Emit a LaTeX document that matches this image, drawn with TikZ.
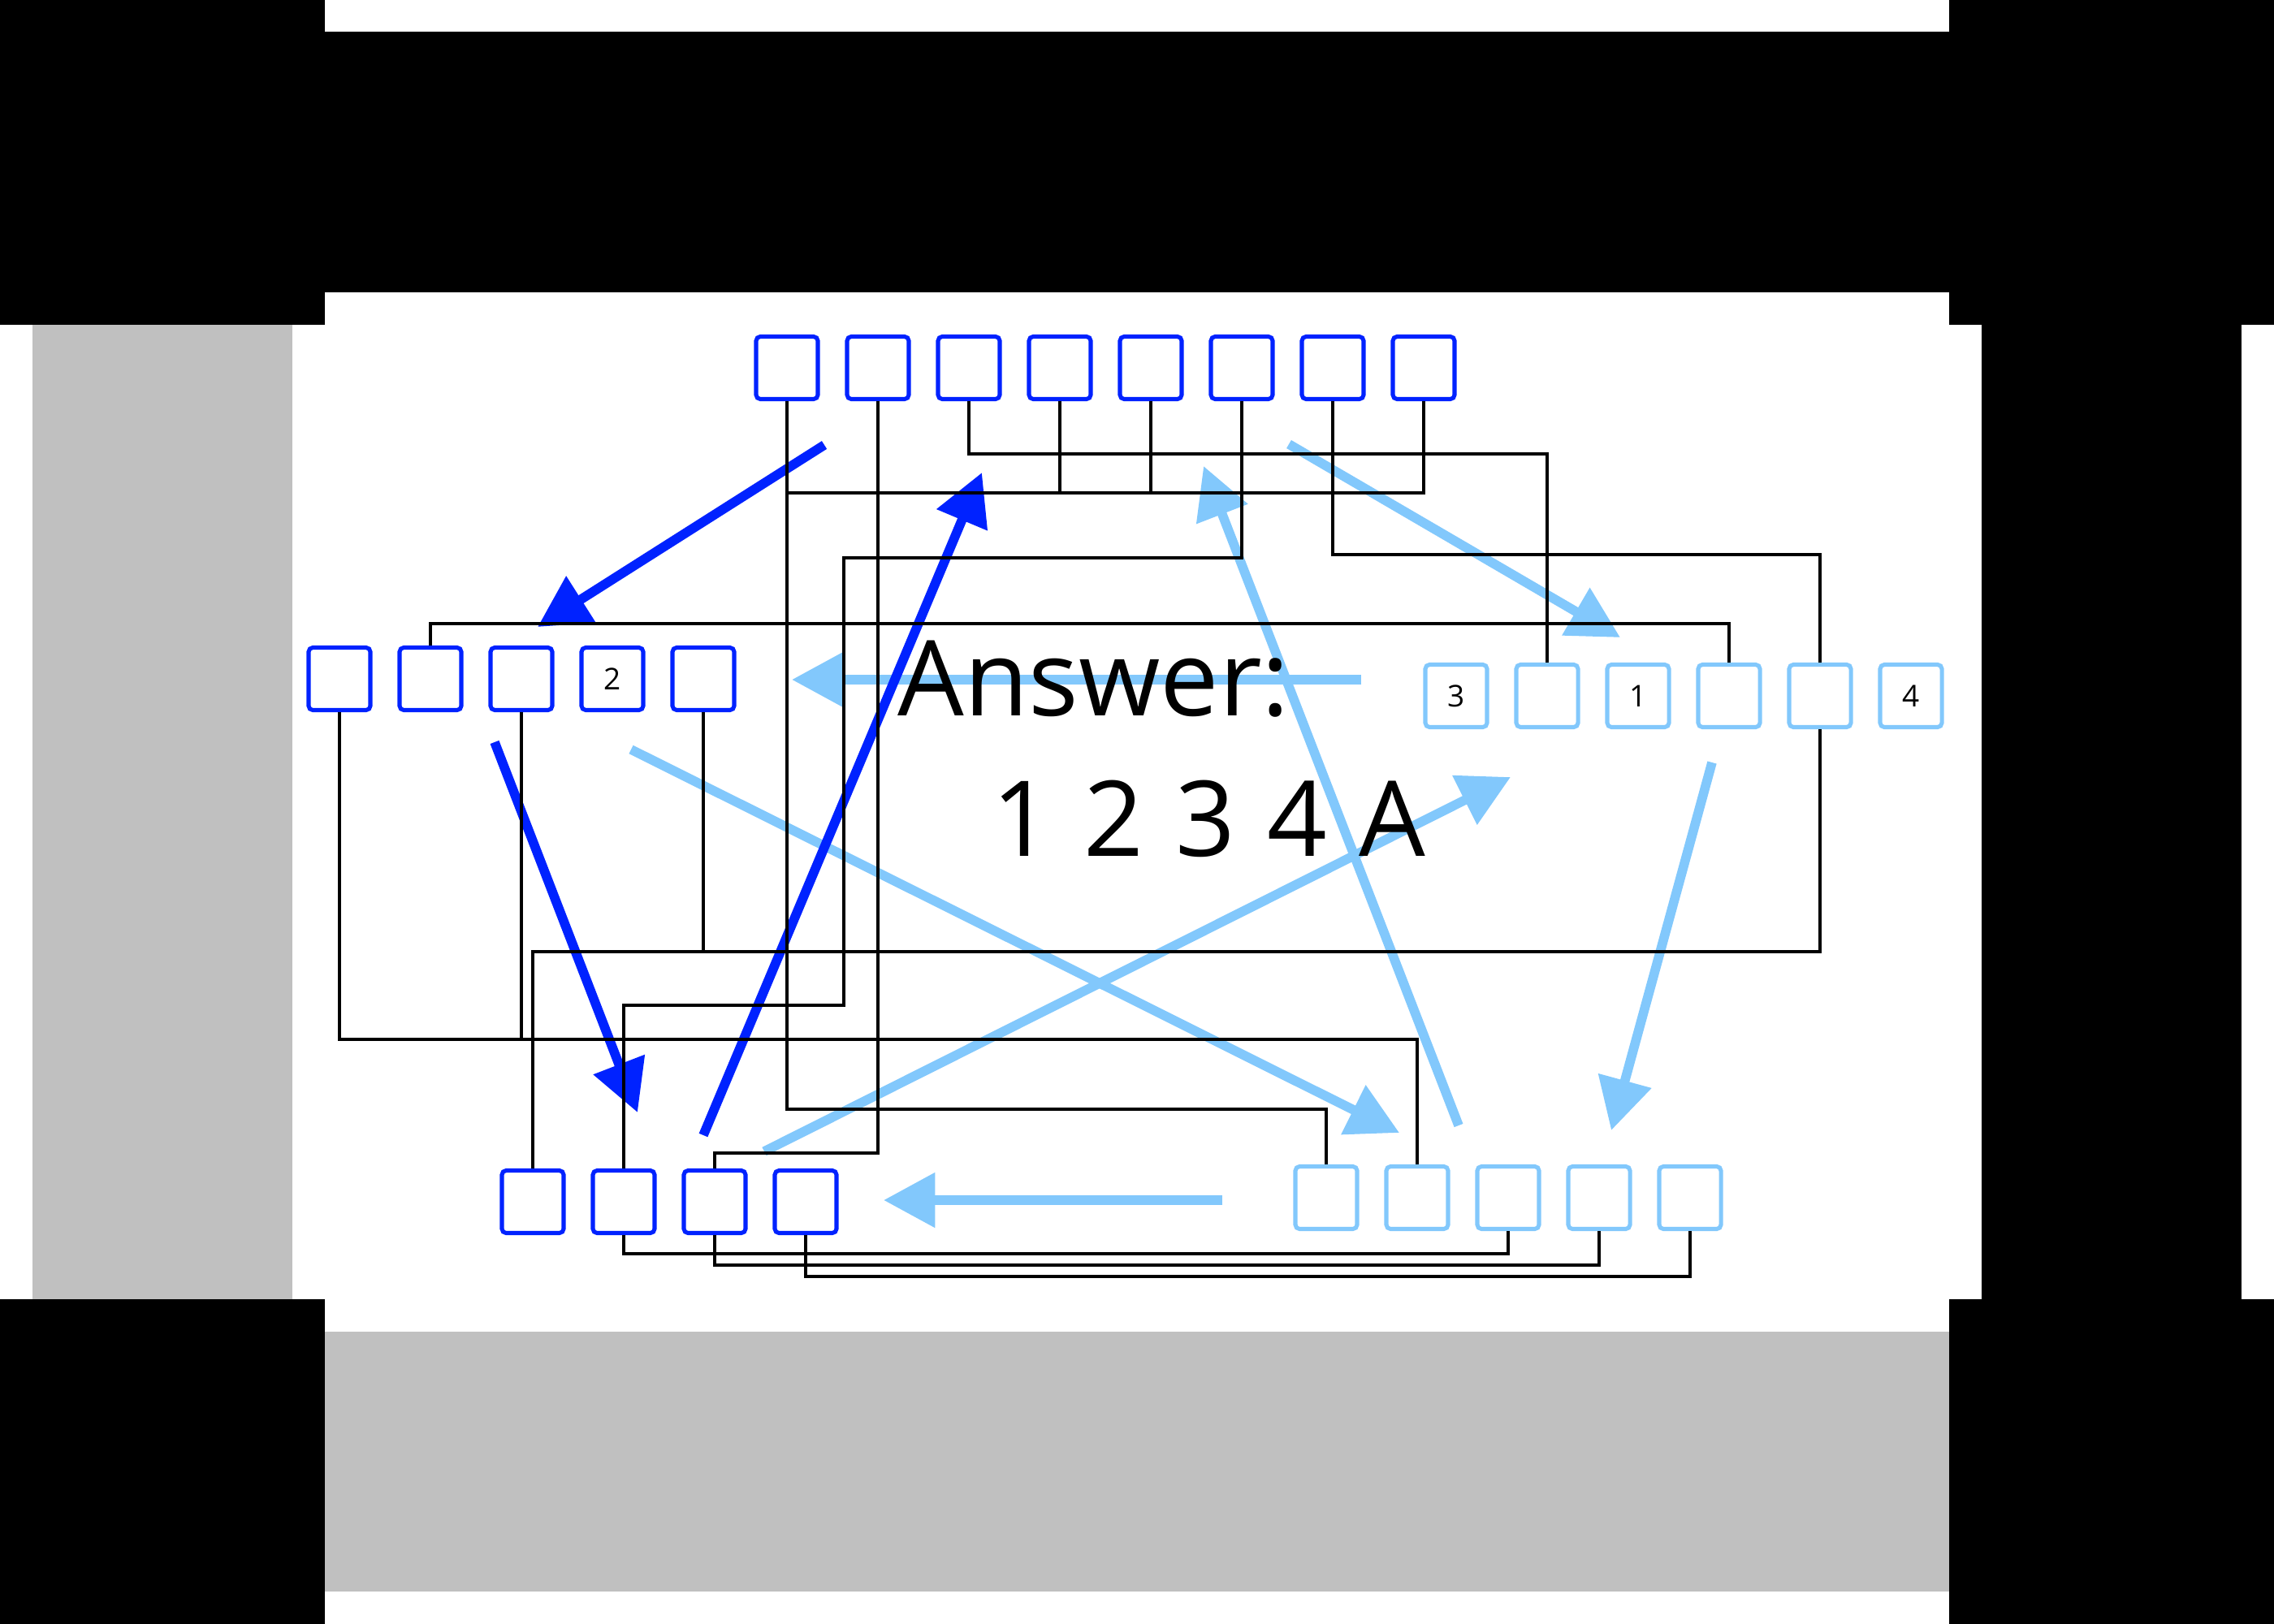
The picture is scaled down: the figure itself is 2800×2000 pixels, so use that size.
\documentclass[tikz,border=0pt]{standalone}
\usepackage{fontspec}
\setmainfont{Open Sans}
\newfontfamily\numfont[WordSpace=1.17]{Open Sans}
\usetikzlibrary{arrows.meta}
\definecolor{dblue}{RGB}{0,34,255}
\definecolor{lblue}{RGB}{130,200,252}
\definecolor{gbg}{RGB}{192,192,192}
\begin{document}
\begin{tikzpicture}[x=0.01cm,y=-0.01cm,
  box/.style={draw, rounded corners=1.5pt, line width=1.45pt, minimum width=0.76cm, minimum height=0.77cm, inner sep=0pt, font=\fontsize{10.5}{12}\selectfont},
  bb/.style={box, draw=dblue},
  lb/.style={box, draw=lblue},
  wire/.style={line width=1.14pt, draw=black},
  darr/.style={line width=3.3pt, draw=dblue, -{Triangle[length=18pt,width=18.5pt]}},
  larr/.style={line width=3.3pt, draw=lblue, -{Triangle[length=18pt,width=18.5pt]}},
  bigtext/.style={anchor=base west, inner sep=0pt, font=\fontsize{36.7}{40}\selectfont}
]
% background
\useasboundingbox (0,0) rectangle (2800,2000);
\fill[white] (0,0) rectangle (2800,2000);
\fill[black] (0,0) rectangle (400,400);
\fill[black] (2400,0) rectangle (2800,400);
\fill[black] (0,39) rectangle (2800,360);
\fill[black] (2440,400) rectangle (2760,1600);
\fill[black] (0,1600) rectangle (400,2000);
\fill[black] (2400,1600) rectangle (2800,2000);
\fill[gbg] (40,400) rectangle (360,1600);
\fill[gbg] (400,1640) rectangle (2400,1960);

% top row
\node[bb] (T1) at (969,453) {};
\node[bb] (T2) at (1081,453) {};
\node[bb] (T3) at (1193,453) {};
\node[bb] (T4) at (1305,453) {};
\node[bb] (T5) at (1417,453) {};
\node[bb] (T6) at (1529,453) {};
\node[bb] (T7) at (1641,453) {};
\node[bb] (T8) at (1753,453) {};
% middle left row
\node[bb] (M1) at (418,836) {};
\node[bb] (M2) at (530,836) {};
\node[bb] (M3) at (642,836) {};
\node[bb] (M4) at (754,836) {2};
\node[bb] (M5) at (866,836) {};
% right row
\node[lb] (R1) at (1793,857) {3};
\node[lb] (R2) at (1905,857) {};
\node[lb] (R3) at (2017,857) {1};
\node[lb] (R4) at (2129,857) {};
\node[lb] (R5) at (2241,857) {};
\node[lb] (R6) at (2353,857) {4};
% bottom left row
\node[bb] (BL1) at (656,1480) {};
\node[bb] (BL2) at (768,1480) {};
\node[bb] (BL3) at (880,1480) {};
\node[bb] (BL4) at (992,1480) {};
% bottom right row
\node[lb] (BR1) at (1633,1475) {};
\node[lb] (BR2) at (1745,1475) {};
\node[lb] (BR3) at (1857,1475) {};
\node[lb] (BR4) at (1969,1475) {};
\node[lb] (BR5) at (2081,1475) {};

% arrow end points
\coordinate (l1s) at (1676,837);  \coordinate (l1e) at (975,837);
\coordinate (l2s) at (1505,1478); \coordinate (l2e) at (1088,1478);
\coordinate (l3s) at (1587,547);  \coordinate (l3e) at (1995,785);
\coordinate (l4s) at (777,923);   \coordinate (l4e) at (1723,1395);
\coordinate (l5s) at (941,1418);  \coordinate (l5e) at (1860,957);
\coordinate (l6s) at (1796,1386); \coordinate (l6e) at (1482,574);
\coordinate (l7s) at (2108,939);  \coordinate (l7e) at (1984,1392);
\coordinate (b1s) at (1015,548);  \coordinate (b1e) at (662,772);
\coordinate (b2s) at (609,914);   \coordinate (b2e) at (785,1370);
\coordinate (b3s) at (866,1398);  \coordinate (b3e) at (1209,582);

\draw[larr] (l1s) -- (l1e);
\draw[larr] (l2s) -- (l2e);
\draw[larr] (l3s) -- (l3e);
\draw[larr] (l4s) -- (l4e);
\draw[larr] (l5s) -- (l5e);
\draw[larr] (l6s) -- (l6e);
\draw[larr] (l7s) -- (l7e);
\draw[darr] (b1s) -- (b1e);
\draw[darr] (b2s) -- (b2e);
\draw[darr] (b3s) -- (b3e);

% wire helper levels
\coordinate (h559) at (0,559);
\coordinate (h607) at (0,607);
\coordinate (h683) at (0,683);
\coordinate (h768) at (0,768);
\coordinate (h1172) at (0,1172);
\coordinate (h1280) at (0,1280);
\coordinate (h1366) at (0,1366);
\coordinate (h1420) at (0,1420);
\coordinate (h1544) at (0,1544);
\coordinate (h1558) at (0,1558);
\coordinate (h1572) at (0,1572);
\coordinate (k1) at (1039,687);
\coordinate (k2) at (1039,1238);

% wires
\draw[wire] (T1.south) -- (T1.south |- h1366) -| (BR1.north);
\draw[wire] (T2.south) -- (T2.south |- h1420) -| (BL3.north);
\draw[wire] (T3.south) -- (T3.south |- h559) -| (R2.north);
\draw[wire] (T4.south) -- (T4.south |- h607) -| (T1.south);
\draw[wire] (T5.south) -- (T5.south |- h607) -| (T1.south);
\draw[wire] (T8.south) -- (T8.south |- h607) -| (T1.south);
\draw[wire] (T6.south) |- (k1) -- (k2) -| (BL2.north);
\draw[wire] (T7.south) -- (T7.south |- h683) -| (R5.north);
\draw[wire] (M1.south) -- (M1.south |- h1280) -| (BR2.north);
\draw[wire] (M3.south) -- (M3.south |- h1280) -| (BR2.north);
\draw[wire] (M2.north) -- (M2.north |- h768) -| (R4.north);
\draw[wire] (R5.south) -- (R5.south |- h1172) -| (BL1.north);
\draw[wire] (M5.south) -- (M5.south |- h1172) -| (BL1.north);
\draw[wire] (BL2.south) -- (BL2.south |- h1544) -| (BR3.south);
\draw[wire] (BL3.south) -- (BL3.south |- h1558) -| (BR4.south);
\draw[wire] (BL4.south) -- (BL4.south |- h1572) -| (BR5.south);

% text
\node[bigtext] (ans) at (1105,881) {Answer:};
\node[bigtext, font=\fontsize{36.7}{40}\selectfont\numfont] (nums) at (1221,1054) {1 2 3 4 A};
\end{tikzpicture}
\end{document}
